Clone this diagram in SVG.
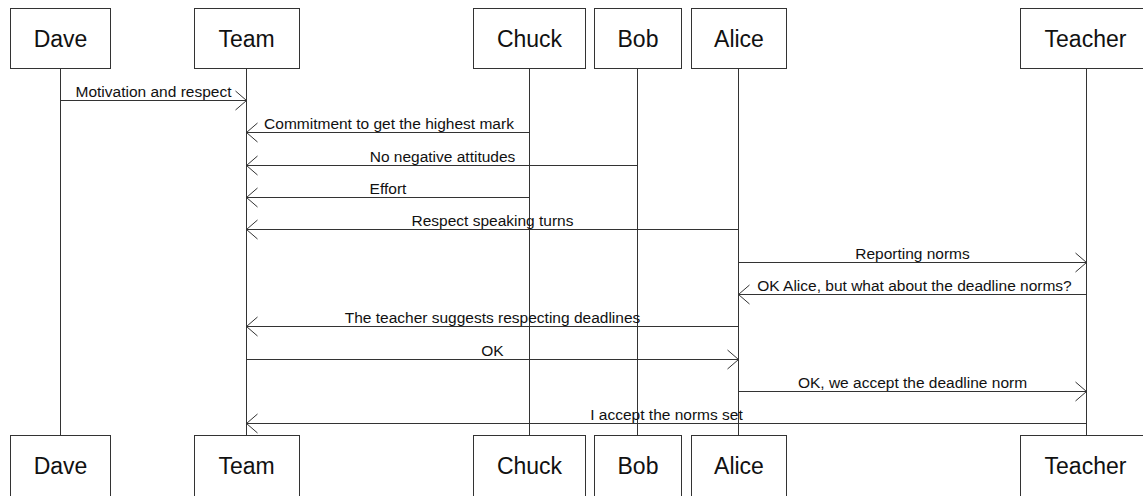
<svg xmlns="http://www.w3.org/2000/svg" width="1143" height="496" viewBox="0 0 1143 496">
<style>
.box{fill:#fff;stroke:#333;stroke-width:1}
.name{font-family:"Liberation Sans",Arial,sans-serif;font-size:23px;fill:#111;text-anchor:middle}
.life{stroke:#333;stroke-width:1;fill:none}
.msg{stroke:#333;stroke-width:1;fill:none;marker-end:url(#arr)}
.lbl{font-family:"Liberation Sans",Arial,sans-serif;font-size:15.5px;fill:#111;text-anchor:middle}
</style>
<defs>
<marker id="arr" markerUnits="userSpaceOnUse" viewBox="-12 -11 13 22" refX="0" refY="0" markerWidth="13" markerHeight="22" orient="auto" overflow="visible">
<path d="M-11,-9.5 L0,0 L-11,9.5" fill="none" stroke="#333" stroke-width="1"/>
</marker>
</defs>
<rect width="1143" height="496" fill="#fff"/>
<g id="lifelines">
<line class="life" x1="60.5" y1="69" x2="60.5" y2="435"/>
<line class="life" x1="246.5" y1="69" x2="246.5" y2="435"/>
<line class="life" x1="529.5" y1="69" x2="529.5" y2="435"/>
<line class="life" x1="637.5" y1="69" x2="637.5" y2="435"/>
<line class="life" x1="738.5" y1="69" x2="738.5" y2="435"/>
<line class="life" x1="1086.5" y1="69" x2="1086.5" y2="435"/>
</g>
<g id="node-dave">
<rect class="box" x="10.5" y="8.5" width="100" height="60"/>
<text class="name" x="60.5" y="46.5">Dave</text>
<rect class="box" x="10.5" y="435.5" width="100" height="62"/>
<text class="name" x="60.5" y="473.5">Dave</text>
</g>
<g id="node-team">
<rect class="box" x="194.5" y="8.5" width="105" height="60"/>
<text class="name" x="246.5" y="46.5">Team</text>
<rect class="box" x="194.5" y="435.5" width="105" height="62"/>
<text class="name" x="246.5" y="473.5">Team</text>
</g>
<g id="node-chuck">
<rect class="box" x="473.5" y="8.5" width="112" height="60"/>
<text class="name" x="529.5" y="46.5">Chuck</text>
<rect class="box" x="473.5" y="435.5" width="112" height="62"/>
<text class="name" x="529.5" y="473.5">Chuck</text>
</g>
<g id="node-bob">
<rect class="box" x="594.5" y="8.5" width="87" height="60"/>
<text class="name" x="638" y="46.5">Bob</text>
<rect class="box" x="594.5" y="435.5" width="87" height="62"/>
<text class="name" x="638" y="473.5">Bob</text>
</g>
<g id="node-alice">
<rect class="box" x="691.5" y="8.5" width="95" height="60"/>
<text class="name" x="739" y="46.5">Alice</text>
<rect class="box" x="691.5" y="435.5" width="95" height="62"/>
<text class="name" x="739" y="473.5">Alice</text>
</g>
<g id="node-teacher">
<rect class="box" x="1020.5" y="8.5" width="132" height="60"/>
<text class="name" x="1085.5" y="46.5">Teacher</text>
<rect class="box" x="1020.5" y="435.5" width="132" height="62"/>
<text class="name" x="1085.5" y="473.5">Teacher</text>
</g>
<g id="connectors">
<line class="msg" x1="60.5" y1="100.5" x2="246.5" y2="100.5"/>
<text class="lbl" x="153.5" y="96.5">Motivation and respect</text>
<line class="msg" x1="529.5" y1="132.5" x2="246.5" y2="132.5"/>
<text class="lbl" x="389" y="128.5">Commitment to get the highest mark</text>
<line class="msg" x1="637.5" y1="165.5" x2="246.5" y2="165.5"/>
<text class="lbl" x="442.5" y="161.5">No negative attitudes</text>
<line class="msg" x1="529.5" y1="197.5" x2="246.5" y2="197.5"/>
<text class="lbl" x="388" y="193.5">Effort</text>
<line class="msg" x1="738.5" y1="229.5" x2="246.5" y2="229.5"/>
<text class="lbl" x="492.5" y="225.5">Respect speaking turns</text>
<line class="msg" x1="738.5" y1="262.5" x2="1086.5" y2="262.5"/>
<text class="lbl" x="912.5" y="258.5">Reporting norms</text>
<line class="msg" x1="1086.5" y1="294.5" x2="738.5" y2="294.5"/>
<text class="lbl" x="914.5" y="290.5">OK Alice, but what about the deadline norms?</text>
<line class="msg" x1="738.5" y1="326.5" x2="246.5" y2="326.5"/>
<text class="lbl" x="492.5" y="322.5">The teacher suggests respecting deadlines</text>
<line class="msg" x1="246.5" y1="359.5" x2="738.5" y2="359.5"/>
<text class="lbl" x="492.5" y="355.5">OK</text>
<line class="msg" x1="738.5" y1="391.5" x2="1086.5" y2="391.5"/>
<text class="lbl" x="912.5" y="387.5">OK, we accept the deadline norm</text>
<line class="msg" x1="1086.5" y1="423.5" x2="246.5" y2="423.5"/>
<text class="lbl" x="666.5" y="419.5">I accept the norms set</text>
</g>
</svg>
